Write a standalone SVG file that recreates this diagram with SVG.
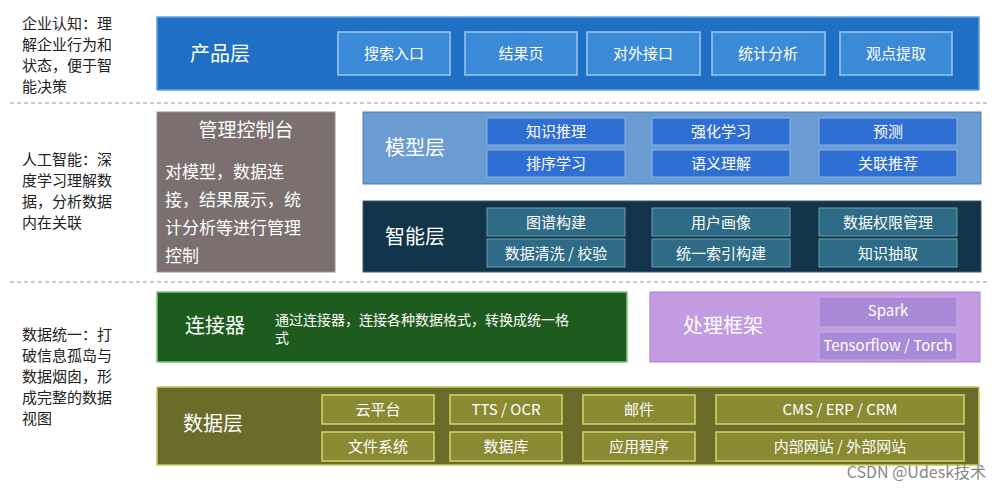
<svg xmlns="http://www.w3.org/2000/svg" width="1000" height="490" viewBox="0 0 1000 490">
<style>
text{font-family:"Noto Sans CJK SC","Liberation Sans",sans-serif;}
.lt{font-size:15px;fill:#222}
.lb{font-size:20px;fill:#fff}
.b{font-size:15px;fill:#fff;text-anchor:middle}
.pb{fill:#3b8ad8;stroke:#9cc8ef;stroke-width:1.5}
.mb{fill:#2f6fd3;stroke:#8fb4e8;stroke-width:1}
.sb{fill:#2d6b86;stroke:#6f9bb0;stroke-width:1}
.db{fill:#8a8a33;stroke:#d6d66a;stroke-width:1.5}
.fb{fill:#a98ad8;stroke:#c9b0ea;stroke-width:1}
.dash{stroke:#bbb;stroke-width:1.5;stroke-dasharray:4 3}
</style>
<rect width="1000" height="490" fill="#fff"/>
<line class="dash" x1="10" y1="103" x2="990" y2="103"/>
<line class="dash" x1="10" y1="282" x2="990" y2="282"/>
<g id="side-texts" class="lt">
<text x="22" y="29">企业认知：理</text><text x="22" y="50">解企业行为和</text><text x="22" y="71">状态，便于智</text><text x="22" y="92">能决策</text>
<text x="22" y="165">人工智能：深</text><text x="22" y="186">度学习理解数</text><text x="22" y="207">据，分析数据</text><text x="22" y="228">内在关联</text>
<text x="22" y="340">数据统一：打</text><text x="22" y="361">破信息孤岛与</text><text x="22" y="382">数据烟囱，形</text><text x="22" y="403">成完整的数据</text><text x="22" y="424">视图</text>
</g>
<g id="product">
<rect x="157" y="17" width="822" height="73" fill="#1f70c4" stroke="#5fa0de" stroke-width="1.5"/>
<text class="lb" x="190" y="61">产品层</text>
<rect class="pb" x="338" y="32" width="112" height="43"/><text class="b" x="394" y="59">搜索入口</text>
<rect class="pb" x="465" y="32" width="112" height="43"/><text class="b" x="521" y="59">结果页</text>
<rect class="pb" x="587" y="32" width="113" height="43"/><text class="b" x="643" y="59">对外接口</text>
<rect class="pb" x="712" y="32" width="113" height="43"/><text class="b" x="768" y="59">统计分析</text>
<rect class="pb" x="840" y="32" width="112" height="43"/><text class="b" x="896" y="59">观点提取</text>
</g>
<g id="mgmt">
<rect x="157" y="112" width="178" height="160" fill="#7b6f6f" stroke="#9a9090"/>
<text x="246" y="137" font-size="19" fill="#fff" text-anchor="middle">管理控制台</text>
<g font-size="17" fill="#fff"><text x="165" y="178">对模型，数据连</text><text x="165" y="206">接，结果展示，统</text><text x="165" y="234">计分析等进行管理</text><text x="165" y="262">控制</text></g>
</g>
<g id="model">
<rect x="363" y="112" width="618" height="72" fill="#6b9cd2" stroke="#4c7fb8"/>
<text class="lb" x="385" y="155">模型层</text>
<rect class="mb" x="487" y="118" width="138" height="27"/><text class="b" x="556" y="137">知识推理</text>
<rect class="mb" x="652" y="118" width="138" height="27"/><text class="b" x="721" y="137">强化学习</text>
<rect class="mb" x="819" y="118" width="138" height="27"/><text class="b" x="888" y="137">预测</text>
<rect class="mb" x="487" y="150" width="138" height="27"/><text class="b" x="556" y="169">排序学习</text>
<rect class="mb" x="652" y="150" width="138" height="27"/><text class="b" x="721" y="169">语义理解</text>
<rect class="mb" x="819" y="150" width="138" height="27"/><text class="b" x="888" y="169">关联推荐</text>
</g>
<g id="smart">
<rect x="363" y="201" width="618" height="71" fill="#12344a" stroke="#3a5d72"/>
<text class="lb" x="385" y="244">智能层</text>
<rect class="sb" x="487" y="208" width="138" height="28"/><text class="b" x="556" y="228">图谱构建</text>
<rect class="sb" x="652" y="208" width="138" height="28"/><text class="b" x="721" y="228">用户画像</text>
<rect class="sb" x="819" y="208" width="138" height="28"/><text class="b" x="888" y="228">数据权限管理</text>
<rect class="sb" x="487" y="239" width="138" height="28"/><text class="b" x="556" y="259">数据清洗 / 校验</text>
<rect class="sb" x="652" y="239" width="138" height="28"/><text class="b" x="721" y="259">统一索引构建</text>
<rect class="sb" x="819" y="239" width="138" height="28"/><text class="b" x="888" y="259">知识抽取</text>
</g>
<g id="connector">
<rect x="157" y="292" width="470" height="70" fill="#1e5b1e" stroke="#7fc87f" stroke-width="1.5"/>
<text class="lb" x="185" y="333">连接器</text>
<text x="275" y="325" font-size="14" fill="#fff">通过连接器，连接各种数据格式，转换成统一格</text>
<text x="275" y="343" font-size="14" fill="#fff">式</text>
</g>
<g id="framework">
<rect x="650" y="292" width="330" height="70" fill="#c39be0" stroke="#a880c8"/>
<text class="lb" x="683" y="333">处理框架</text>
<rect class="fb" x="819" y="297" width="138" height="30"/><text class="b" x="888" y="316" font-size="13">Spark</text>
<rect class="fb" x="819" y="332" width="138" height="28"/><text class="b" x="888" y="351" font-size="13">Tensorflow / Torch</text>
</g>
<g id="data">
<rect x="157" y="387" width="822" height="78" fill="#6b6b2a" stroke="#c8c860" stroke-width="1.5"/>
<text class="lb" x="183" y="431">数据层</text>
<rect class="db" x="322" y="395" width="112" height="29"/><text class="b" x="378" y="415">云平台</text>
<rect class="db" x="450" y="395" width="112" height="29"/><text class="b" x="506" y="415" font-size="13">TTS / OCR</text>
<rect class="db" x="583" y="395" width="112" height="29"/><text class="b" x="639" y="415">邮件</text>
<rect class="db" x="716" y="395" width="248" height="29"/><text class="b" x="840" y="415" font-size="13">CMS / ERP / CRM</text>
<rect class="db" x="322" y="432" width="112" height="29"/><text class="b" x="378" y="452">文件系统</text>
<rect class="db" x="450" y="432" width="112" height="29"/><text class="b" x="506" y="452">数据库</text>
<rect class="db" x="583" y="432" width="112" height="29"/><text class="b" x="639" y="452">应用程序</text>
<rect class="db" x="716" y="432" width="248" height="29"/><text class="b" x="840" y="452">内部网站 / 外部网站</text>
</g>
<g id="connectors"></g>
<text x="986" y="478" font-size="16" fill="#888" text-anchor="end">CSDN @Udesk技术</text>
</svg>
